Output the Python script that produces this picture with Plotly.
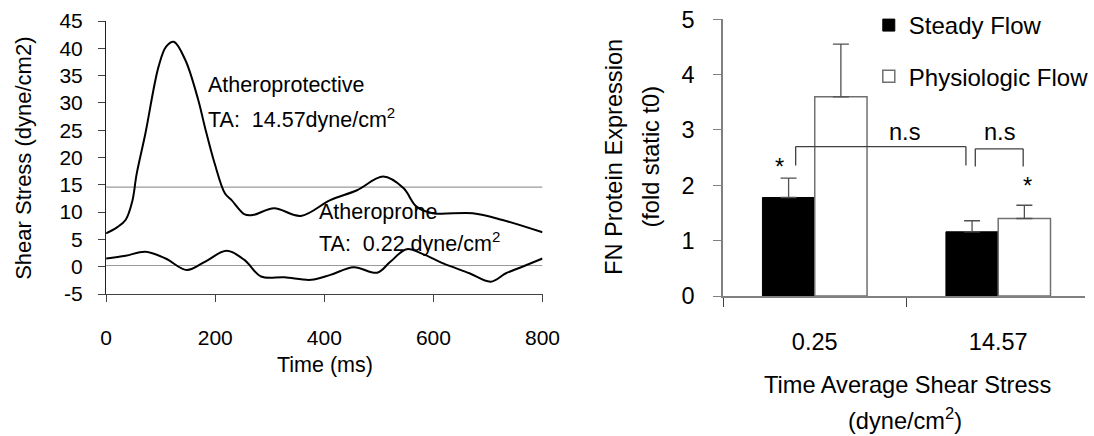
import plotly.graph_objects as go

# ---------------- data ----------------
t_protective = [0, 20, 36, 48, 56, 72, 96, 110, 124, 145, 169, 181, 199, 218, 230, 254, 270,
                308, 357, 411, 460, 508, 545, 569, 599, 672, 727, 800]
y_protective = [6.1, 7.2, 8.6, 12, 17, 24.4, 36.6, 40.3, 41.2, 37.9, 30.5, 25.6, 18.9, 13.4, 12.2,
                9.6, 9.5, 10.7, 9.3, 12.2, 14.0, 16.5, 14.4, 11.0, 9.8, 9.8, 8.55, 6.3]

t_prone = [0, 36, 72, 109, 148, 181, 221, 254, 284, 327, 376, 411, 454, 497, 521, 551, 581,
           618, 666, 705, 733, 763, 800]
y_prone = [1.5, 2.0, 2.75, 1.5, -0.6, 0.9, 2.9, 1.2, -1.8, -1.95, -2.4, -1.5, -0.1, -1.1, 0.9,
           3.2, 2.3, 0.6, -1.2, -2.75, -1.2, 0.0, 1.5]

ta_values = [14.57, 0.22]
time_span = [0, 800]
shear_ticks = [-5, 0, 5, 10, 15, 20, 25, 30, 35, 40, 45]
shear_ticklabels = ["-5", "0", "5", "10", "15", "20", "25", "30", "35", "40", "45"]
time_ticks = [0, 200, 400, 600, 800]

categories = ["0.25", "14.57"]
steady_flow = [1.78, 1.16]
steady_err = [0.35, 0.20]
physiologic_flow = [3.60, 1.40]
physiologic_err = [0.95, 0.24]

FONT = "Liberation Sans, Arial, sans-serif"
W, H = 1094, 436

fig = go.Figure()

# ---------------- left chart ----------------
for v in ta_values:
    fig.add_trace(go.Scatter(x=time_span, y=[v, v], mode="lines",
                             line=dict(color="#9a9a9a", width=1.2),
                             showlegend=False, hoverinfo="skip", xaxis="x", yaxis="y"))
fig.add_trace(go.Scatter(x=t_protective, y=y_protective, mode="lines",
                         line=dict(color="black", width=2, shape="spline", smoothing=1.0),
                         showlegend=False, xaxis="x", yaxis="y"))
fig.add_trace(go.Scatter(x=t_prone, y=y_prone, mode="lines",
                         line=dict(color="black", width=2, shape="spline", smoothing=1.0),
                         showlegend=False, xaxis="x", yaxis="y"))

# ---------------- right chart ----------------
fig.add_trace(go.Bar(x=categories, y=steady_flow, name="Steady Flow",
                     marker=dict(color="black", line=dict(color="black", width=1)),
                     error_y=dict(type="data", array=steady_err, arrayminus=[0, 0], symmetric=False,
                                  color="#505050", thickness=1.3, width=8),
                     legendgroup="a", xaxis="x2", yaxis="y2"))
fig.add_trace(go.Bar(x=categories, y=physiologic_flow, name="Physiologic Flow",
                     marker=dict(color="white", line=dict(color="#707070", width=1.5)),
                     error_y=dict(type="data", array=physiologic_err, arrayminus=[0, 0], symmetric=False,
                                  color="#505050", thickness=1.3, width=8),
                     legendgroup="b", xaxis="x2", yaxis="y2"))

def px2fx(px):
    return px / W

def py2fy(py):
    return 1 - py / H

axis_common = dict(showgrid=False, zeroline=False, showline=True, ticks="outside",
                   automargin=False, tickfont=dict(family=FONT, size=21, color="black"))

fig.update_layout(
    width=W, height=H, margin=dict(l=0, r=0, t=0, b=0),
    paper_bgcolor="white", plot_bgcolor="white",
    font=dict(family=FONT, color="black"),
    barmode="group", bargap=0.43, bargroupgap=0,
    showlegend=True,
    legend=dict(x=px2fx(876), y=py2fy(3), xanchor="left", yanchor="top",
                font=dict(family=FONT, size=24, color="black"),
                bgcolor="rgba(0,0,0,0)", tracegroupgap=17, traceorder="grouped"),
    xaxis=dict(axis_common, domain=[px2fx(107), px2fx(547)], range=[0, 800],
               tickvals=time_ticks, linecolor="#404040", linewidth=1.3,
               ticklen=7, tickcolor="#404040", ticklabelstandoff=18, anchor="y"),
    yaxis=dict(axis_common, domain=[py2fy(294), py2fy(21)], range=[-5, 45],
               tickvals=shear_ticks, ticktext=shear_ticklabels,
               linecolor="#202020", linewidth=1.3, ticklen=7, tickcolor="#404040",
               ticklabelstandoff=11, anchor="x"),
    xaxis2=dict(axis_common, domain=[px2fx(729), 1.0], range=[-0.5, 1.473], type="category",
                tickson="boundaries", linecolor="#808080", linewidth=1.5, ticklen=9,
                tickcolor="#404040", ticklabelstandoff=24,
                tickfont=dict(family=FONT, size=23.5, color="black"), anchor="y2"),
    yaxis2=dict(axis_common, domain=[py2fy(296), py2fy(19.3)], range=[0, 5], dtick=1,
                linecolor="#808080", linewidth=1.5, ticklen=8, tickcolor="#808080",
                ticklabelstandoff=14, tickfont=dict(family=FONT, size=23.5, color="black"),
                anchor="x2"),
)

# brackets (right chart)
brackets = [(-0.104, 0.824, 2.70, 2.36), (0.875, 1.136, 2.66, 2.34)]
for x0, x1, ytop, ybot in brackets:
    for (a, b, c, d) in [(x0, ybot, x0, ytop), (x0, ytop, x1, ytop), (x1, ytop, x1, ybot)]:
        fig.add_shape(type="line", xref="x2", yref="y2", x0=a, y0=b, x1=c, y1=d,
                      line=dict(color="#404040", width=1.3))

ann = []
def text(x, y, s, size, xref="paper", yref="paper", xanchor="center", yanchor="middle", angle=0):
    ann.append(dict(x=x, y=y, xref=xref, yref=yref, text=s, showarrow=False,
                    xanchor=xanchor, yanchor=yanchor, textangle=angle,
                    font=dict(family=FONT, size=size, color="black")))

# left annotations
text(183.6, 33.3, "Atheroprotective", 21.5, "x", "y", "left")
text(183.6, 27.2, "TA:  14.57dyne/cm<sup>2</sup>", 21.5, "x", "y", "left")
text(387, 10.1, "Atheroprone", 21.5, "x", "y", "left")
text(387, 4.6, "TA:  0.22 dyne/cm<sup>2</sup>", 21.5, "x", "y", "left")
# left axis titles
text(px2fx(328), py2fy(365), "Time (ms)", 21.5)
text(px2fx(24), py2fy(158), "Shear Stress (dyne/cm2)", 22, angle=-90)
# right axis titles
text(px2fx(619), py2fy(157), "FN Protein Expression", 23.6, angle=-90)
text(px2fx(656), py2fy(157), "(fold static t0)", 23.6, angle=-90)
text(px2fx(915), py2fy(385), "Time Average Shear Stress", 23.6)
text(px2fx(913), py2fy(419), "(dyne/cm<sup>2</sup>)", 23.6)
# significance labels
text(0.488, 2.97, "n.s", 23.6, "x2", "y2")
text(1.008, 2.97, "n.s", 23.6, "x2", "y2")
text(-0.19, 2.34, "*", 23.6, "x2", "y2")
text(1.16, 1.98, "*", 23.6, "x2", "y2")

fig.update_layout(annotations=ann)
fig.write_html("out.html", config={"displayModeBar": False},
               post_script="document.body.style.margin='0';")
